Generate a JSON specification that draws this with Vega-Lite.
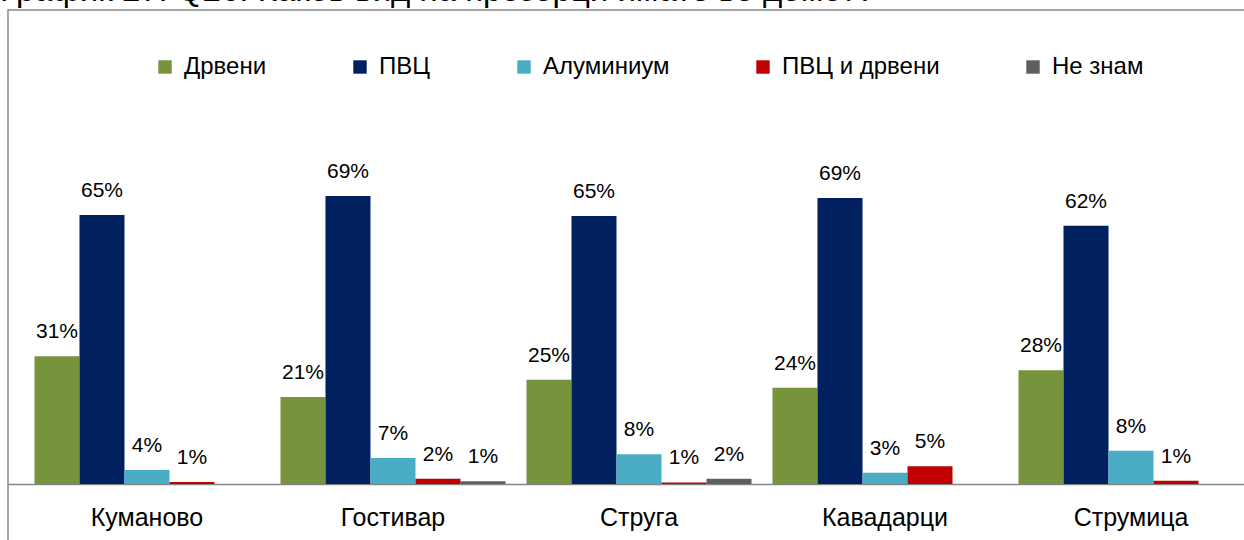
{
  "$schema": "https://vega.github.io/schema/vega-lite/v6.json",
  "autosize": {"type": "none"},
  "padding": {"left": 8, "top": 10, "right": 0, "bottom": 0},
  "width": 1262,
  "height": 560,
  "background": "white",
  "title": {
    "text": "График 27: Q26. Каков вид на прозорци имате во домот?",
    "anchor": "start",
    "frame": "group",
    "orient": "top",
    "offset": 0,
    "baseline": "alphabetic",
    "dx": -8,
    "dy": 24,
    "font": "Liberation Sans",
    "fontSize": 33,
    "fontWeight": "normal",
    "color": "#000000"
  },
  "config": {
    "view": {"stroke": "#898989", "strokeWidth": 1.5},
    "font": "Liberation Sans"
  },
  "data": {
    "values": [
      {"city": "Куманово", "type": "Дрвени", "value": 30.8, "label": "31%"},
      {"city": "Куманово", "type": "ПВЦ", "value": 64.8, "label": "65%"},
      {"city": "Куманово", "type": "Алуминиум", "value": 3.4, "label": "4%"},
      {"city": "Куманово", "type": "ПВЦ и дрвени", "value": 0.5, "label": "1%"},
      {"city": "Гостивар", "type": "Дрвени", "value": 21.0, "label": "21%"},
      {"city": "Гостивар", "type": "ПВЦ", "value": 69.4, "label": "69%"},
      {"city": "Гостивар", "type": "Алуминиум", "value": 6.3, "label": "7%"},
      {"city": "Гостивар", "type": "ПВЦ и дрвени", "value": 1.3, "label": "2%"},
      {"city": "Гостивар", "type": "Не знам", "value": 0.7, "label": "1%"},
      {"city": "Струга", "type": "Дрвени", "value": 25.1, "label": "25%"},
      {"city": "Струга", "type": "ПВЦ", "value": 64.6, "label": "65%"},
      {"city": "Струга", "type": "Алуминиум", "value": 7.2, "label": "8%"},
      {"city": "Струга", "type": "ПВЦ и дрвени", "value": 0.4, "label": "1%"},
      {"city": "Струга", "type": "Не знам", "value": 1.3, "label": "2%"},
      {"city": "Кавадарци", "type": "Дрвени", "value": 23.2, "label": "24%"},
      {"city": "Кавадарци", "type": "ПВЦ", "value": 68.9, "label": "69%"},
      {"city": "Кавадарци", "type": "Алуминиум", "value": 2.7, "label": "3%"},
      {"city": "Кавадарци", "type": "ПВЦ и дрвени", "value": 4.3, "label": "5%"},
      {"city": "Струмица", "type": "Дрвени", "value": 27.4, "label": "28%"},
      {"city": "Струмица", "type": "ПВЦ", "value": 62.2, "label": "62%"},
      {"city": "Струмица", "type": "Алуминиум", "value": 8.0, "label": "8%"},
      {"city": "Струмица", "type": "ПВЦ и дрвени", "value": 0.8, "label": "1%"}
    ]
  },
  "encoding": {
    "x": {
      "field": "city",
      "type": "nominal",
      "sort": ["Куманово", "Гостивар", "Струга", "Кавадарци", "Струмица"],
      "scale": {"paddingInner": 0, "paddingOuter": 0.065},
      "axis": {
        "title": null,
        "orient": "bottom",
        "offset": -86,
        "labelAngle": 0,
        "ticks": false,
        "domainColor": "#868686",
        "domainWidth": 1.5,
        "labelPadding": 21,
        "labelFontSize": 25,
        "labelColor": "#000000",
        "labelFont": "Liberation Sans"
      }
    },
    "xOffset": {
      "field": "type",
      "type": "nominal",
      "scale": {
        "domain": ["Дрвени", "ПВЦ", "Алуминиум", "ПВЦ и дрвени", "Не знам"],
        "paddingInner": 0,
        "paddingOuter": 0.233
      }
    },
    "y": {
      "field": "value",
      "type": "quantitative",
      "scale": {"domain": [-20.7, 114.2], "nice": false},
      "axis": null
    }
  },
  "layer": [
    {
      "mark": {"type": "bar"},
      "encoding": {
        "color": {
          "field": "type",
          "type": "nominal",
          "scale": {
            "domain": ["Дрвени", "ПВЦ", "Алуминиум", "ПВЦ и дрвени", "Не знам"],
            "range": ["#77933C", "#002060", "#4BACC6", "#C00000", "#5F5F5F"]
          },
          "legend": {
            "title": null,
            "orient": "none",
            "direction": "horizontal",
            "legendX": 145,
            "legendY": 45,
            "symbolType": "square",
            "symbolSize": 180,
            "symbolStrokeWidth": 0,
            "symbolOpacity": 1,
            "labelFontSize": 24,
            "labelFont": "Liberation Sans",
            "labelColor": "#000000",
            "labelOffset": 7,
            "columnPadding": 81
          }
        }
      }
    },
    {
      "mark": {
        "type": "text",
        "dy": -18,
        "baseline": "alphabetic",
        "align": "center",
        "fontSize": 21,
        "font": "Liberation Sans",
        "color": "#000000"
      },
      "encoding": {"text": {"field": "label"}}
    }
  ]
}
